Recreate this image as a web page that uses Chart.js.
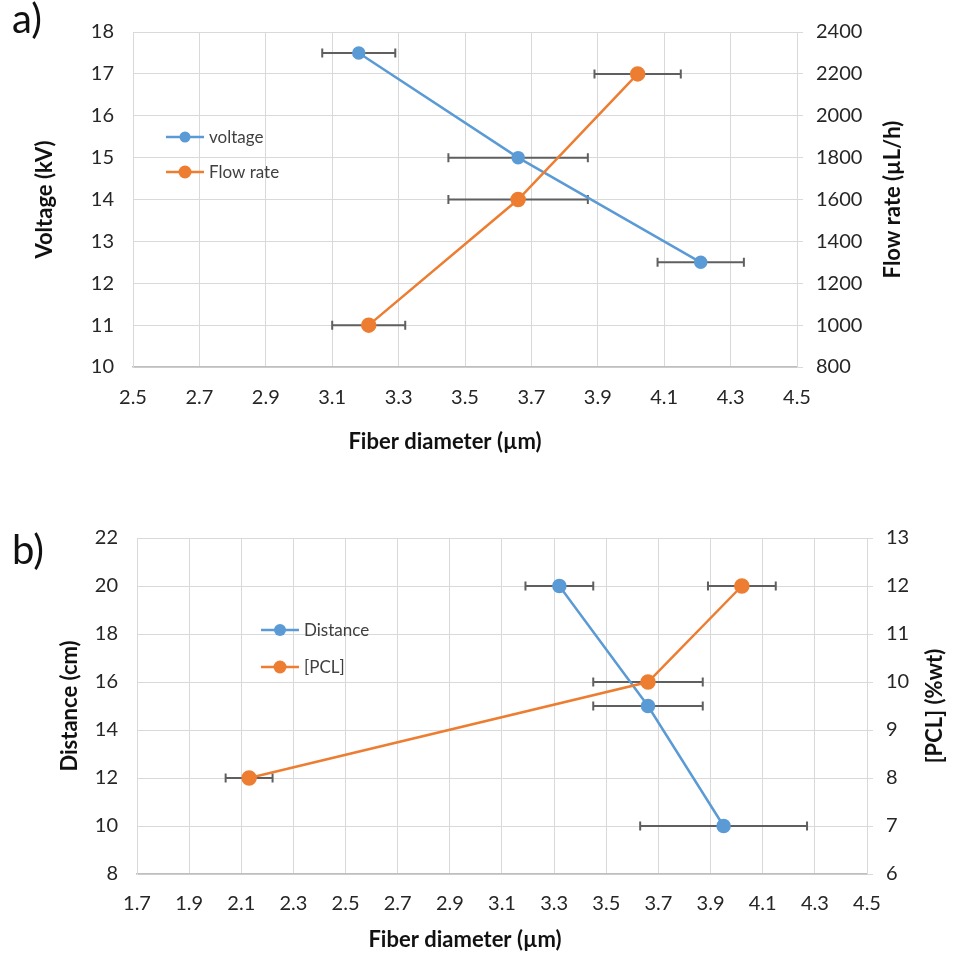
<!DOCTYPE html>
<html>
<head>
<meta charset="utf-8">
<script src="https://cdn.jsdelivr.net/npm/chart.js@4.4.1/dist/chart.umd.min.js"></script>
<style>
  body { margin: 0; background: #fff; }
  #wrap { position: relative; width: 954px; height: 954px; overflow: hidden; }
  .box { position: absolute; left: 0; width: 954px; }
  .tag { position: absolute; left: 12px; font: 40px Lato, "Open Sans", sans-serif; color: #111; }
</style>
</head>
<body>
<div id="wrap">
  <div class="box" style="top:0;height:470px"><canvas id="chartA"></canvas></div>
  <div class="box" style="top:495px;height:459px"><canvas id="chartB"></canvas></div>
  <div class="tag" style="top:-6px">a)</div>
  <div class="tag" style="top:525px">b)</div>
</div>
<script>
// ---- data ----
// a) voltage / flow rate vs fiber diameter
const voltageX = [3.18, 3.66, 4.21];
const voltageY = [17.5, 15, 12.5];
const voltageErr = [0.11, 0.21, 0.13];
const flowX = [3.21, 3.66, 4.02];
const flowY = [1000, 1600, 2200];
const flowErr = [0.11, 0.21, 0.13];
// b) distance / [PCL] vs fiber diameter
const distX = [3.32, 3.66, 3.95];
const distY = [20, 15, 10];
const distErr = [0.13, 0.21, 0.32];
const pclX = [2.13, 3.66, 4.02];
const pclY = [8, 10, 12];
const pclErr = [0.09, 0.21, 0.13];

const BLUE = "#5B9BD5", ORANGE = "#ED7D31";
const FONT = 'Lato, "Open Sans", sans-serif';
const GRID = "#d9d9d9";
const TICK = "#262626";

function pts(xs, ys) {
  return xs.map(function (x, i) { return { x: x, y: ys[i] }; });
}

// error bars, legend and the titles Chart.js can't place the way Excel does
const extras = {
  id: "extras",
  beforeDatasetsDraw(chart, args, o) {
    var ctx = chart.ctx, xs = chart.scales.x;
    ctx.save();
    ctx.strokeStyle = "#5f5f5f";
    ctx.lineWidth = 2;
    chart.data.datasets.forEach(function (ds) {
      var ys = chart.scales[ds.yAxisID];
      ds.data.forEach(function (p, j) {
        var e = ds.xErr[j];
        var a = xs.getPixelForValue(p.x - e), b = xs.getPixelForValue(p.x + e), y = ys.getPixelForValue(p.y);
        ctx.beginPath();
        ctx.moveTo(a, y); ctx.lineTo(b, y);
        ctx.moveTo(a, y - 4.5); ctx.lineTo(a, y + 4.5);
        ctx.moveTo(b, y - 4.5); ctx.lineTo(b, y + 4.5);
        ctx.stroke();
      });
    });
    ctx.restore();
  },
  afterDraw(chart, args, o) {
    var ctx = chart.ctx, ca = chart.chartArea;
    ctx.save();
    // legend
    ctx.font = "17px " + FONT;
    ctx.textBaseline = "middle";
    chart.data.datasets.forEach(function (ds, i) {
      var y = o.legend.y + i * o.legend.gap, x = o.legend.x;
      ctx.strokeStyle = ds.borderColor; ctx.lineWidth = 2.5;
      ctx.beginPath(); ctx.moveTo(x, y); ctx.lineTo(x + 38, y); ctx.stroke();
      ctx.fillStyle = ds.backgroundColor;
      ctx.beginPath(); ctx.arc(x + 19, y, ds.pointRadius, 0, Math.PI * 2); ctx.fill();
      ctx.fillStyle = "#404040";
      ctx.fillText(ds.label, x + 43, y + 1);
    });
    // axis titles
    ctx.font = "bold 22px " + FONT;
    ctx.fillStyle = "#111";
    ctx.textAlign = "center";
    ctx.fillText(o.xTitle.text, o.xTitle.x, o.xTitle.y);
    ctx.translate(o.rTitle.x, (ca.top + ca.bottom) / 2);
    ctx.rotate(-Math.PI / 2);
    ctx.fillText(o.rTitle.text, 0, 0);
    ctx.restore();
  }
};

function makeChart(id, cfg) {
  return new Chart(document.getElementById(id), {
    type: "scatter",
    data: {
      datasets: [{
        label: cfg.names[0], data: cfg.s1, xErr: cfg.e1, yAxisID: "y",
        showLine: true, borderColor: BLUE, backgroundColor: BLUE,
        borderWidth: 2.5, pointRadius: cfg.r1, pointHoverRadius: cfg.r1, order: 1
      }, {
        label: cfg.names[1], data: cfg.s2, xErr: cfg.e2, yAxisID: "y1",
        showLine: true, borderColor: ORANGE, backgroundColor: ORANGE,
        borderWidth: 2.5, pointRadius: 6.5, pointHoverRadius: 6.5, order: 0
      }]
    },
    options: {
      responsive: true,
      maintainAspectRatio: false,
      animation: false,
      events: [],
      layout: { padding: { left: cfg.padLeft, top: cfg.padTop, right: 0, bottom: 0 } },
      plugins: {
        legend: { display: false },
        tooltip: { enabled: false },
        extras: { legend: cfg.legend, xTitle: cfg.xTitle, rTitle: cfg.rTitle }
      },
      scales: {
        x: {
          type: "linear", min: cfg.xMin, max: 4.5,
          afterFit: function (s) { s.height = cfg.xH; },
          grid: { color: GRID, drawTicks: false },
          border: { color: "#bfbfbf", width: 1.5 },
          ticks: {
            stepSize: 0.2, autoSkip: false, maxRotation: 0, padding: cfg.xPad,
            color: TICK, font: { family: FONT, size: 20 },
            callback: function (v) { return v.toFixed(1); }
          }
        },
        y: {
          position: "left", min: cfg.yMin, max: cfg.yMax,
          afterFit: function (s) { s.width = cfg.yW; },
          grid: { color: GRID, drawTicks: false },
          border: { color: GRID },
          ticks: { stepSize: cfg.yStep, padding: 19, color: TICK, font: { family: FONT, size: 20 } },
          title: { display: true, text: cfg.yTitle, padding: 0, color: "#111", font: { family: FONT, size: 22, weight: "bold" } }
        },
        y1: {
          position: "right", min: cfg.y1Min, max: cfg.y1Max,
          afterFit: function (s) { s.width = cfg.y1W; },
          grid: { color: GRID, drawOnChartArea: false, tickLength: 6 },
          border: { color: GRID },
          ticks: {
            stepSize: cfg.y1Step, padding: 13, color: TICK, font: { family: FONT, size: 20 },
            callback: function (v) { return String(v); }
          }
        }
      }
    },
    plugins: [extras]
  });
}

makeChart("chartA", {
  names: ["voltage", "Flow rate"],
  s1: pts(voltageX, voltageY), e1: voltageErr, r1: 5.5,
  s2: pts(flowX, flowY), e2: flowErr,
  xMin: 2.5, xH: 103, xPad: 19,
  yMin: 10, yMax: 18, yStep: 1, yW: 101, padLeft: 32, padTop: 32,
  y1Min: 800, y1Max: 2400, y1Step: 200, y1W: 157,
  yTitle: "Voltage (kV)",
  legend: { x: 166, y: 137, gap: 35 },
  xTitle: { text: "Fiber diameter (µm)", x: 445, y: 442 },
  rTitle: { text: "Flow rate (µL/h)", x: 893 }
});

makeChart("chartB", {
  names: ["Distance", "[PCL]"],
  s1: pts(distX, distY), e1: distErr, r1: 6,
  s2: pts(pclX, pclY), e2: pclErr,
  xMin: 1.7, xH: 80, xPad: 18,
  yMin: 8, yMax: 22, yStep: 2, yW: 80, padLeft: 57, padTop: 43,
  y1Min: 6, y1Max: 13, y1Step: 1, y1W: 87,
  yTitle: "Distance (cm)",
  legend: { x: 261, y: 135, gap: 37 },
  xTitle: { text: "Fiber diameter (µm)", x: 465, y: 445 },
  rTitle: { text: "[PCL] (%wt)", x: 935 }
});
</script>
</body>
</html>
